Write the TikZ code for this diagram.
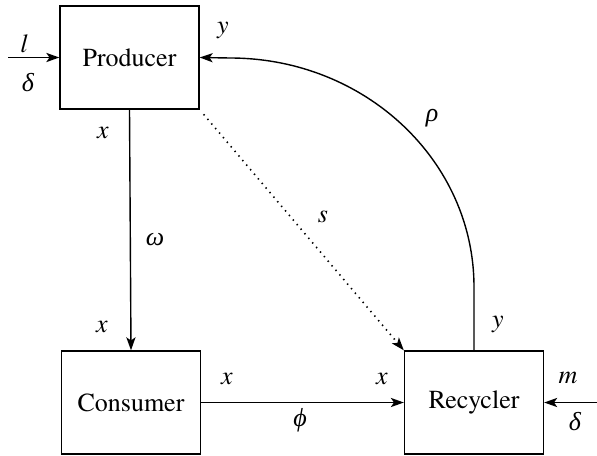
\documentclass[tikz,border=0pt]{standalone}
\usepackage{fontspec}
\setmainfont{texgyretermes}[Extension=.otf,UprightFont=*-regular,ItalicFont=*-italic,BoldFont=*-bold]
\newfontfamily\grk{Liberation Serif}
\usetikzlibrary{arrows.meta}
\begin{document}
\begin{tikzpicture}[x=0.5pt,y=-0.5pt,
  font=\fontsize{13}{15}\selectfont,
  box/.style={draw,line width=0.7pt,minimum width=69.5pt,minimum height=51.5pt,inner sep=0pt},
  conn/.style={line width=0.7pt,-{Stealth[length=6.5pt,width=4.6pt,inset=1.6pt]}},
  lab/.style={inner sep=0pt,font=\fontsize{13}{15}\selectfont\itshape},
  glab/.style={inner sep=0pt,font=\grk\fontsize{13}{15}\selectfont\itshape}]
\useasboundingbox (0,0) rectangle (597,455);
\node[box] (prod) at (129.5,57.5) {Producer};
\node[box] (cons) at (131,402.5) {Consumer};
\node[box] (rec) at (474,402.5) {Recycler};
\coordinate (lin) at (8,57.5);
\coordinate (rin) at (597,402.5);
\coordinate (bend) at (474,287);
\draw[conn] (lin) -- (prod.west);
\draw[conn] (rin) -- (rec.east);
\draw[conn] (prod.south) -- (cons.north);
\draw[conn] (cons.east) -- (rec.west);
\draw[conn,line width=0.8pt,dash pattern=on 0.7pt off 2.3pt,shorten <=3pt] (prod.south east) -- (rec.north west);
\draw[conn] (rec.north) -- (bend) arc[start angle=0,end angle=90,x radius=122pt,y radius=114.5pt] -- (prod.east);
\node[lab] (l1) at (24,44) {l};
\node[glab] (d1) at (28,83) {δ};
\node[lab] (y1) at (223,30) {y};
\node[lab] (x1) at (103,133) {x};
\node[glab] (rho) at (432,118) {ρ};
\node[lab] (s) at (323,217) {s};
\node[glab] (om) at (155,240) {ω};
\node[lab] (x2) at (102,327) {x};
\node[lab] (x3) at (227,379) {x};
\node[lab] (x4) at (382,379) {x};
\node[glab] (phi) at (300,420) {ϕ};
\node[lab] (y2) at (498,324) {y};
\node[lab] (m) at (568,378) {m};
\node[glab] (d2) at (575,422) {δ};
\end{tikzpicture}
\end{document}
